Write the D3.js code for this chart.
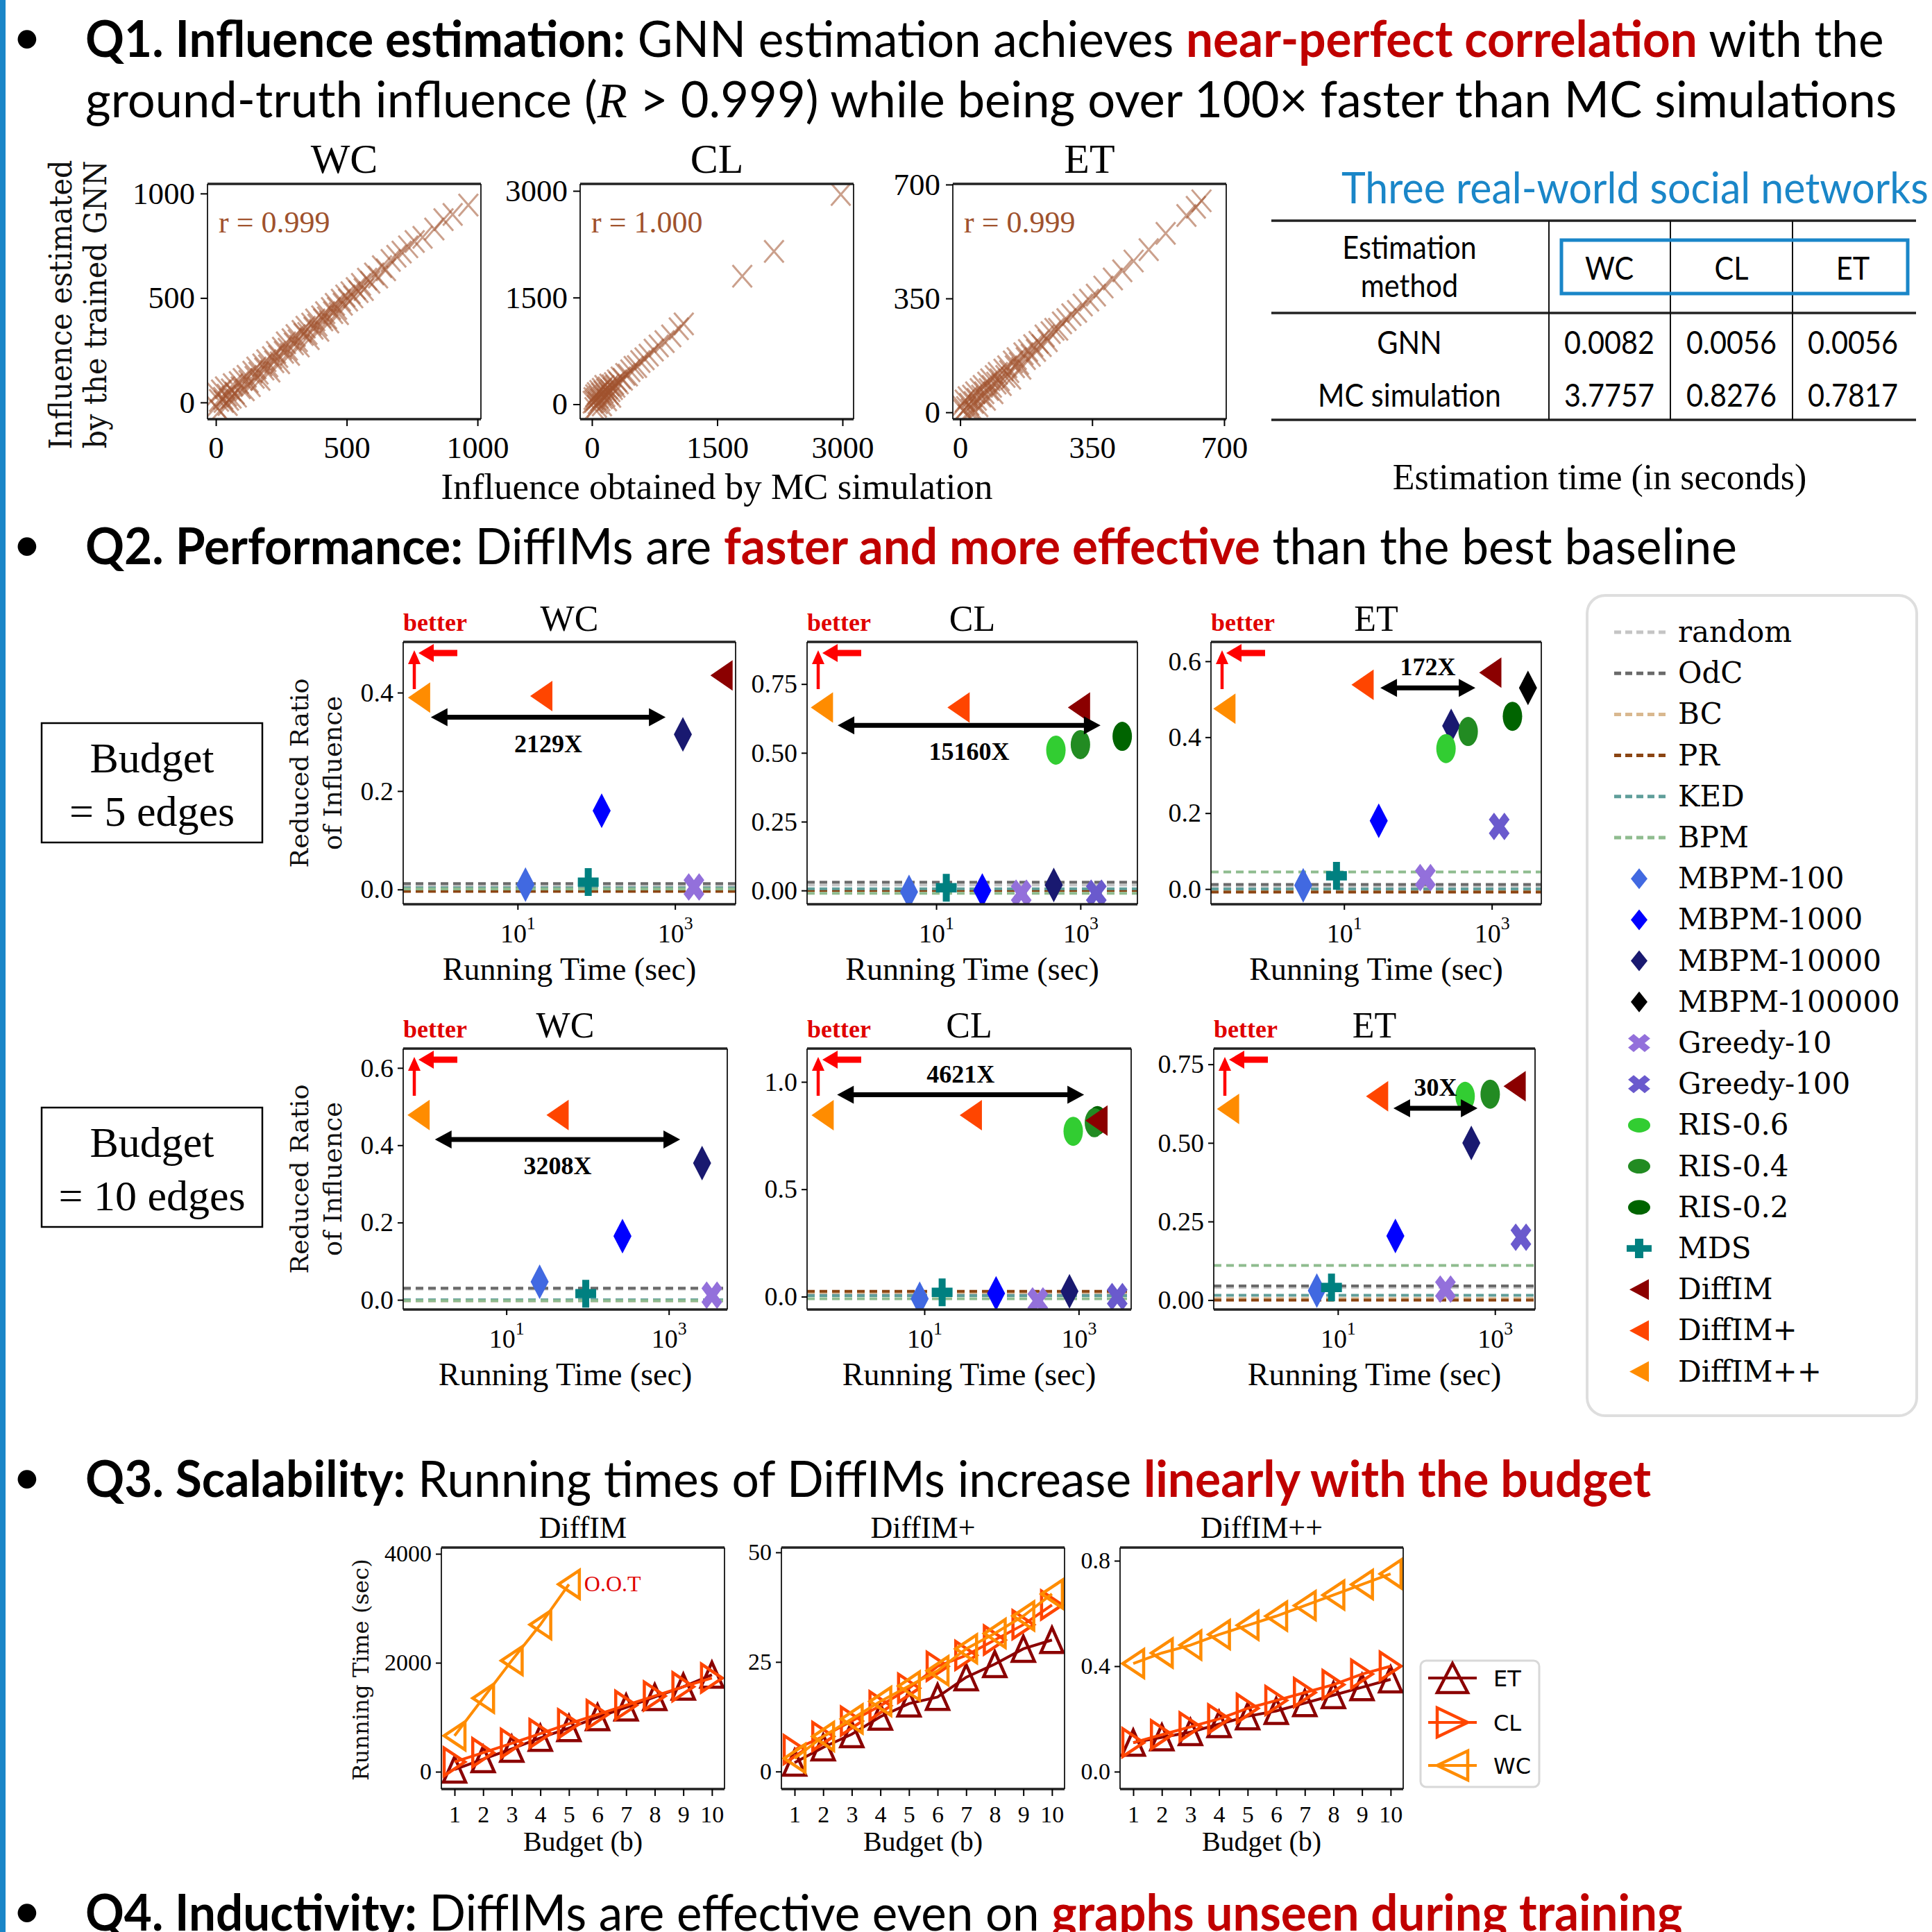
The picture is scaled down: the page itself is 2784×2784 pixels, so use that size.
<!DOCTYPE html>
<html lang="en">
<head>
<meta charset="utf-8">
<title>DiffIM results</title>
<script src="https://cdn.jsdelivr.net/npm/d3@7"></script>
<style>
  html, body { margin: 0; padding: 0; background: #fff; }
  svg { display: block; }
  text { white-space: pre; }
</style>
</head>
<body>
<svg id="chart" width="2784" height="2784"></svg>
<script>
// ---------- Q1 data: [influence by MC simulation, influence estimated by GNN] ----------
const wcScatter = [[5,40],[12,10],[20,55],[28,20],[35,70],[42,35],[50,15],[58,60],[65,85],[72,45],[80,30],[88,95],[95,70],[103,110],[110,60],[118,125],[125,100],[133,80],[140,145],[148,120],[155,165],[163,140],[170,110],[178,180],[185,160],[193,200],[200,175],[208,150],[215,215],[223,195],[230,240],[238,220],[245,190],[253,260],[260,240],[268,285],[275,255],[283,230],[290,300],[298,280],[305,320],[313,295],[320,270],[328,340],[335,325],[343,360],[350,330],[358,305],[365,375],[373,355],[380,395],[388,370],[395,345],[403,410],[410,395],[418,430],[425,405],[433,385],[440,450],[448,430],[455,470],[463,450],[470,425],[478,490],[485,470],[495,510],[505,490],[515,525],[525,505],[535,545],[545,530],[555,565],[565,540],[578,590],[590,575],[605,615],[620,600],[635,650],[650,635],[668,680],[690,700],[710,720],[735,745],[760,770],[790,790],[835,830],[870,875],[905,900],[965,945],[0,-20],[15,-40],[30,5],[45,-10],[60,25]];
const clScatter = [[10,30],[20,80],[30,40],[40,120],[50,70],[60,150],[70,20],[80,100],[90,180],[100,60],[110,140],[120,210],[130,90],[140,170],[150,250],[160,120],[170,200],[180,60],[190,230],[200,150],[210,270],[220,190],[230,110],[240,260],[250,220],[265,290],[280,250],[300,330],[320,300],[345,370],[370,350],[400,420],[430,410],[460,470],[500,520],[540,530],[580,600],[630,640],[680,690],[740,760],[800,820],[870,880],[950,960],[1040,1060],[1100,1130],[1800,1800],[2180,2150],[2980,2950],[30,-60],[60,-30],[120,-10]];
const etScatter = [[3,20],[8,5],[12,35],[16,15],[20,45],[24,25],[28,8],[32,50],[36,30],[40,60],[44,40],[48,20],[52,70],[56,50],[60,80],[64,60],[68,40],[72,90],[76,70],[80,100],[84,80],[88,60],[92,110],[96,90],[100,120],[105,100],[110,85],[115,130],[120,110],[125,140],[130,125],[135,105],[140,155],[145,140],[150,165],[156,150],[162,135],[168,180],[174,165],[180,190],[187,175],[194,205],[201,190],[208,215],[216,205],[224,235],[232,220],[240,245],[250,255],[260,255],[270,275],[282,285],[295,300],[310,310],[325,330],[342,345],[360,360],[380,385],[405,410],[430,435],[460,465],[500,500],[545,550],[600,605],[625,630],[640,650],[20,-10],[40,0]];
const scatterNames = ['WC', 'CL', 'ET'];
const scatterR = ['r = 0.999', 'r = 1.000', 'r = 0.999'];
const scatterTicks = [[0, 500, 1000], [0, 1500, 3000], [0, 350, 700]];

// estimation time table (seconds)
const tableCols = ['WC', 'CL', 'ET'];
const tableRows = ['GNN', 'MC simulation'];
const gnnTimes = ['0.0082', '0.0056', '0.0056'];
const mcTimes = ['3.7757', '0.8276', '0.7817'];

// ---------- Q2 data ----------
const baselineNames = ['random', 'OdC', 'BC', 'PR', 'KED', 'BPM'];
const baselineColors = ['#c4c4c4', '#6a6a6a', '#d9b88f', '#8b4513', '#5f9e9a', '#8fbc8f'];
const methodNames = ['MBPM-100', 'MBPM-1000', 'MBPM-10000', 'MBPM-100000', 'Greedy-10', 'Greedy-100', 'RIS-0.6', 'RIS-0.4', 'RIS-0.2', 'MDS', 'DiffIM', 'DiffIM+', 'DiffIM++'];
const methodColors = ['#4169e1', '#0000ff', '#191970', '#000000', '#9370db', '#6a5acd', '#32cd32', '#228b22', '#006400', '#008080', '#8b0000', '#ff4500', '#ff8c00'];
const methodShapes = ['diamond', 'diamond', 'diamond', 'diamond', 'ex', 'ex', 'circle', 'circle', 'circle', 'plus', 'triLeft', 'triLeft', 'triLeft'];

// baseline reduced ratios, order as baselineNames
const b5wcBase = [0.008, 0.012, 0.0, -0.004, 0.003, 0.001];
const b5clBase = [0.02, 0.03, 0.005, 0.0, 0.006, -0.01];
const b5etBase = [0.008, 0.012, -0.004, -0.008, 0.0, 0.045];
const b10wcBase = [0.028, 0.03, 0.0, -0.002, 0.0, -0.002];
const b10clBase = [0.01, 0.02, 0.02, 0.025, 0.005, -0.01];
const b10etBase = [0.04, 0.045, 0.005, 0.0, 0.015, 0.11];

// [method, running time (sec), reduced ratio of influence]
const b5wcPts = [['MBPM-100', 12.6, 0.01], ['MDS', 79, 0.015], ['MBPM-1000', 117, 0.16], ['MBPM-10000', 1260, 0.315], ['Greedy-10', 1740, 0.005], ['DiffIM', 3900, 0.435], ['DiffIM+', 20, 0.393], ['DiffIM++', 0.56, 0.39]];
const b5clPts = [['MBPM-100', 4.2, -0.005], ['MDS', 13.8, 0.01], ['MBPM-1000', 43.6, 0.0], ['Greedy-10', 151, -0.01], ['MBPM-10000', 427, 0.02], ['Greedy-100', 1660, -0.01], ['RIS-0.6', 457, 0.51], ['RIS-0.4', 1000, 0.53], ['RIS-0.2', 3800, 0.56], ['DiffIM', 955, 0.665], ['DiffIM+', 20.4, 0.665], ['DiffIM++', 0.26, 0.665]];
const b5etPts = [['MBPM-100', 2.8, 0.01], ['MDS', 7.9, 0.035], ['Greedy-10', 126, 0.03], ['MBPM-1000', 29.5, 0.18], ['Greedy-100', 1260, 0.165], ['MBPM-10000', 282, 0.43], ['RIS-0.6', 240, 0.37], ['RIS-0.4', 479, 0.415], ['RIS-0.2', 1905, 0.455], ['MBPM-100000', 3090, 0.53], ['DiffIM', 955, 0.57], ['DiffIM+', 17.8, 0.538], ['DiffIM++', 0.24, 0.475]];
const b10wcPts = [['MBPM-100', 25.7, 0.047], ['MDS', 95, 0.016], ['MBPM-1000', 269, 0.165], ['MBPM-10000', 2570, 0.354], ['Greedy-10', 3390, 0.012], ['DiffIM+', 42.7, 0.478], ['DiffIM++', 0.83, 0.478]];
const b10clPts = [['MBPM-100', 8.7, -0.01], ['MDS', 17, 0.02], ['MBPM-1000', 85, 0.015], ['Greedy-10', 295, -0.02], ['MBPM-10000', 760, 0.025], ['Greedy-100', 3160, 0.0], ['RIS-0.6', 850, 0.77], ['RIS-0.2', 1750, 0.82], ['RIS-0.4', 1600, 0.81], ['DiffIM', 1700, 0.82], ['DiffIM+', 40, 0.845], ['DiffIM++', 0.48, 0.845]];
const b10etPts = [['MBPM-100', 5.4, 0.03], ['MDS', 8.3, 0.04], ['Greedy-10', 234, 0.035], ['MBPM-1000', 54, 0.204], ['Greedy-100', 2140, 0.2], ['MBPM-10000', 500, 0.5], ['RIS-0.6', 417, 0.648], ['RIS-0.4', 870, 0.655], ['DiffIM', 1780, 0.68], ['DiffIM+', 31.6, 0.648], ['DiffIM++', 0.4, 0.608]];

// speed-up arrows: [from sec, to sec, ratio, label, label side]
const b5wcGap = [0.79, 760, 0.35, '2129X', 'below'];
const b5clGap = [0.43, 1900, 0.60, '15160X', 'below'];
const b5etGap = [31, 600, 0.53, '172X', 'above'];
const b10wcGap = [1.32, 1380, 0.415, '3208X', 'below'];
const b10clGap = [0.74, 1175, 0.94, '4621X', 'above'];
const b10etGap = [51, 600, 0.61, '30X', 'above'];

// ---------- Q3 data: running time (sec) vs budget ----------
const budgets = [1, 2, 3, 4, 5, 6, 7, 8, 9, 10];
const diffimET = [40, 230, 420, 620, 800, 1000, 1180, 1370, 1560, 1780];
const diffimCL = [180, 350, 520, 700, 880, 1050, 1220, 1390, 1560, 1720];
const diffimWC = [660, 1350, 2040, 2700, 3440];
const diffimPlusET = [2, 5.5, 8.5, 12.5, 15.5, 17, 21.5, 24.5, 28, 30];
const diffimPlusCL = [5, 8, 11.5, 15, 19, 24, 26.5, 30, 33.5, 38];
const diffimPlusWC = [3, 8, 12, 16, 19.5, 23, 28, 31.5, 35.5, 40.5];
const diffimPPET = [0.11, 0.13, 0.15, 0.18, 0.21, 0.23, 0.26, 0.29, 0.32, 0.35];
const diffimPPCL = [0.11, 0.14, 0.17, 0.20, 0.24, 0.27, 0.30, 0.33, 0.37, 0.40];
const diffimPPWC = [0.41, 0.45, 0.48, 0.52, 0.555, 0.59, 0.63, 0.67, 0.71, 0.75];
const scaleSeries = ['ET', 'CL', 'WC'];
const scaleColors = ['#8b0000', '#ff4500', '#ff8c00'];
const scaleShapes = ['triUp', 'triRight', 'triLeft'];

// ---------- drawing ----------
const svg = d3.select('#chart');
const W = 2784;
const serif = '"Liberation Serif", "Times New Roman", serif';
const wide = '"DejaVu Serif", serif';
const sans = 'Lato, "Noto Sans", sans-serif';
const BLUE = '#1a86c8';
const RED = '#c00000';

svg.append('rect').attr('width', W).attr('height', W).attr('fill', '#fff');
svg.append('rect').attr('width', 8).attr('height', W).attr('fill', BLUE);

const shapeUnit = {
    diamond: 'M0,-0.5L0.5,0L0,0.5L-0.5,0Z',
    triLeft: 'M-0.5,0L0.5,-0.5L0.5,0.5Z',
    triRight: 'M0.5,0L-0.5,-0.5L-0.5,0.5Z',
    triUp: 'M0,-0.5L0.5,0.5L-0.5,0.5Z',
    circle: d3.symbol(d3.symbolCircle, Math.PI * 0.25)(),
    plus: d3.symbol(d3.symbolCross, 5 / 9)(),
    ex: d3.symbol(d3.symbolCross, 0.62)(),
    cross: 'M-0.5,-0.5L0.5,0.5M-0.5,0.5L0.5,-0.5'
};

function marker(g, shape, cx, cy, w, h) {
    const rot = shape === 'ex' ? ' rotate(45)' : '';
    return g.append('path')
        .attr('d', shapeUnit[shape])
        .attr('vector-effect', 'non-scaling-stroke')
        .attr('transform', `translate(${cx},${cy}) scale(${w},${h})${rot}`);
}

function arrowHead(g, x, y, dx, dy, len, wid, color) {
    const n = Math.hypot(dx, dy), ux = dx / n, uy = dy / n;
    const bx = x - ux * len, by = y - uy * len;
    g.append('path')
        .attr('d', `M${x},${y}L${bx - uy * wid / 2},${by + ux * wid / 2}L${bx + uy * wid / 2},${by - ux * wid / 2}Z`)
        .attr('fill', color);
}

function arrow(g, x1, y1, x2, y2, color, sw, len, wid, both) {
    const n = Math.hypot(x2 - x1, y2 - y1), ux = (x2 - x1) / n, uy = (y2 - y1) / n;
    g.append('line')
        .attr('x1', both ? x1 + ux * (len - 2) : x1).attr('y1', both ? y1 + uy * (len - 2) : y1)
        .attr('x2', x2 - ux * (len - 2)).attr('y2', y2 - uy * (len - 2))
        .attr('stroke', color).attr('stroke-width', sw);
    arrowHead(g, x2, y2, ux, uy, len, wid, color);
    if (both) arrowHead(g, x1, y1, -ux, -uy, len, wid, color);
}

function frame(g, x0, x1, y0, y1) {
    g.append('line').attr('x1', x0).attr('x2', x1).attr('y1', y0).attr('y2', y0).attr('stroke', '#222').attr('stroke-width', 3.5);
    g.append('line').attr('x1', x0).attr('x2', x1).attr('y1', y1).attr('y2', y1).attr('stroke', '#222').attr('stroke-width', 3.5);
    g.append('line').attr('x1', x0).attr('x2', x0).attr('y1', y0).attr('y2', y1).attr('stroke', '#111').attr('stroke-width', 1.8);
    g.append('line').attr('x1', x1).attr('x2', x1).attr('y1', y0).attr('y2', y1).attr('stroke', '#111').attr('stroke-width', 1.8);
}

function styleAxis(a, size) {
    a.select('.domain').remove();
    a.attr('font-family', serif).attr('font-size', size);
    a.selectAll('text').attr('fill', '#000');
    a.selectAll('line').attr('stroke', '#000').attr('stroke-width', 2);
}

function rotLabel(x, cy, str, size, len) {
    const t = svg.append('text').attr('font-family', wide).attr('font-size', size)
        .attr('text-anchor', 'middle').attr('fill', '#111').text(str);
    const k = len / t.node().getComputedTextLength();
    t.attr('transform', `translate(${x},${cy}) rotate(-90) scale(${k},1)`);
}

function plainText(x, y, str, opts) {
    return svg.append('text').attr('x', x).attr('y', y)
        .attr('font-family', opts.family || serif).attr('font-size', opts.size)
        .attr('font-weight', opts.weight || 400).attr('fill', opts.color || '#000')
        .attr('text-anchor', opts.anchor || 'middle').text(str);
}

// sans text, squeezed a little to mimic a narrow face
function narrowText(x, y, str, size, color, anchor) {
    return svg.append('text').attr('x', 0).attr('y', 0)
        .attr('transform', `translate(${x},${y}) scale(0.9,1)`)
        .attr('font-family', sans).attr('font-size', size).attr('fill', color || '#000')
        .attr('text-anchor', anchor || 'middle').text(str);
}

// ---------- bullet headlines ----------
function headline(y, parts, width, bullet) {
    if (bullet) {
        svg.append('text').attr('x', 39).attr('y', y - 4).attr('font-family', sans)
            .attr('font-size', 72).attr('text-anchor', 'middle').text('\u2022');
    }
    const t = svg.append('text').attr('x', 0).attr('y', y).attr('font-family', sans).attr('font-size', 72);
    parts.forEach(p => {
        t.append('tspan').text(p[0])
            .attr('font-weight', p[1].includes('b') ? 700 : 400)
            .attr('fill', p[1].includes('r') ? RED : '#000')
            .attr('font-style', p[1].includes('i') ? 'italic' : null)
            .attr('font-family', p[1].includes('i') ? serif : null);
    });
    const k = width / t.node().getComputedTextLength();
    t.attr('transform', `translate(123,0) scale(${k},1)`);
}

headline(82, [['Q1. Influence estimation:', 'b'], [' GNN estimation achieves ', ''], ['near-perfect correlation', 'br'], [' with the', '']], 2592, true);
headline(169, [['ground-truth influence (', ''], ['R', 'i'], [' > 0.999) while being over 100\u00d7 faster than MC simulations', '']], 2611, false);
headline(813, [['Q2. Performance:', 'b'], [' DiffIMs are ', ''], ['faster and more effective', 'br'], [' than the best baseline', '']], 2380, true);
headline(2157, [['Q3. Scalability:', 'b'], [' Running times of DiffIMs increase ', ''], ['linearly with the budget', 'br']], 2256, true);
headline(2782, [['Q4. Inductivity:', 'b'], [' DiffIMs are effective even on ', ''], ['graphs unseen during training', 'br']], 2302, true);

// ---------- Q1 scatter panels ----------
const q1Layout = [
    { x0: 299, x1: 693, xd: [-32, 1013], yd: [-80, 1046] },
    { x0: 836, x1: 1230, xd: [-141, 3133], yd: [-210, 3098] },
    { x0: 1373, x1: 1767, xd: [-19.5, 705.6], yd: [-21, 702] }
];
const q1Data = [wcScatter, clScatter, etScatter];
const Q1TOP = 265, Q1BOT = 604;

q1Layout.forEach((p, i) => {
    const g = svg.append('g');
    const x = d3.scaleLinear().domain(p.xd).range([p.x0, p.x1]);
    const y = d3.scaleLinear().domain(p.yd).range([Q1BOT, Q1TOP]);
    const clipId = 'q1clip' + i;
    svg.append('clipPath').attr('id', clipId).append('rect')
        .attr('x', p.x0).attr('y', Q1TOP).attr('width', p.x1 - p.x0).attr('height', Q1BOT - Q1TOP);
    const pts = g.append('g').attr('clip-path', `url(#${clipId})`);
    q1Data[i].forEach(d => {
        marker(pts, 'cross', x(d[0]), y(d[1]), 28, 32)
            .attr('fill', 'none').attr('stroke', '#a0522d').attr('stroke-width', 3).attr('stroke-opacity', 0.55);
    });
    frame(g, p.x0, p.x1, Q1TOP, Q1BOT);
    g.append('g').attr('transform', `translate(0,${Q1BOT})`)
        .call(d3.axisBottom(x).tickValues(scatterTicks[i]).tickFormat(d3.format('d')).tickSize(10).tickPadding(14))
        .call(a => styleAxis(a, 45));
    g.append('g').attr('transform', `translate(${p.x0},0)`)
        .call(d3.axisLeft(y).tickValues(scatterTicks[i]).tickFormat(d3.format('d')).tickSize(10).tickPadding(8))
        .call(a => styleAxis(a, 45));
    plainText((p.x0 + p.x1) / 2, 249, scatterNames[i], { size: 60 });
    plainText(p.x0 + 16, 335, scatterR[i], { size: 44, color: '#a0522d', anchor: 'start' });
});
plainText(1033, 719, 'Influence obtained by MC simulation', { size: 53 });
rotLabel(103, 439, 'Influence estimated', 44, 417);
rotLabel(153, 439, 'by the trained GNN', 44, 415);

// ---------- estimation time table ----------
(function drawTable() {
    const t = svg.append('text').attr('x', 0).attr('y', 0).attr('font-family', sans)
        .attr('font-size', 62).attr('fill', BLUE).text('Three real-world social networks');
    const k = 846 / t.node().getComputedTextLength();
    t.attr('transform', `translate(1933,293) scale(${k},1)`);

    const colX = [2319, 2495, 2670];
    [318, 451, 605].forEach(yy => svg.append('line').attr('x1', 1832).attr('x2', 2761)
        .attr('y1', yy).attr('y2', yy).attr('stroke', '#222').attr('stroke-width', 3.5));
    [2232, 2407, 2583].forEach(xx => svg.append('line').attr('x1', xx).attr('x2', xx)
        .attr('y1', 318).attr('y2', 605).attr('stroke', '#111').attr('stroke-width', 2));
    svg.append('rect').attr('x', 2250).attr('y', 346).attr('width', 499).attr('height', 77)
        .attr('fill', 'none').attr('stroke', BLUE).attr('stroke-width', 5);

    narrowText(2031, 373, 'Estimation', 46);
    narrowText(2031, 428, 'method', 46);
    tableCols.forEach((c, i) => narrowText(colX[i], 403, c, 46));
    narrowText(2031, 510, tableRows[0], 46);
    narrowText(2031, 586, tableRows[1], 46);
    gnnTimes.forEach((v, i) => narrowText(colX[i], 510, v, 46));
    mcTimes.forEach((v, i) => narrowText(colX[i], 586, v, 46));
    plainText(2305, 705, 'Estimation time (in seconds)', { size: 52 });
})();

// ---------- Q2 performance panels ----------
const perfPanels = [
    { name: 'WC', x0: 581, x1: 1060, y0: 925, y1: 1303, xd: [0.352, 5890], yd: [-0.03, 0.503], ticks: [0, 0.2, 0.4], fmt: '.1f', base: b5wcBase, pts: b5wcPts, gap: b5wcGap },
    { name: 'CL', x0: 1163, x1: 1639, y0: 925, y1: 1303, xd: [0.162, 6170], yd: [-0.05, 0.903], ticks: [0, 0.25, 0.5, 0.75], fmt: '.2f', base: b5clBase, pts: b5clPts, gap: b5clGap },
    { name: 'ET', x0: 1745, x1: 2221, y0: 925, y1: 1303, xd: [0.158, 4680], yd: [-0.04, 0.651], ticks: [0, 0.2, 0.4, 0.6], fmt: '.1f', base: b5etBase, pts: b5etPts, gap: b5etGap },
    { name: 'WC', x0: 581, x1: 1048, y0: 1511, y1: 1887, xd: [0.537, 5250], yd: [-0.025, 0.65], ticks: [0, 0.2, 0.4, 0.6], fmt: '.1f', base: b10wcBase, pts: b10wcPts, gap: b10wcGap },
    { name: 'CL', x0: 1163, x1: 1630, y0: 1511, y1: 1887, xd: [0.302, 4790], yd: [-0.06, 1.155], ticks: [0, 0.5, 1.0], fmt: '.1f', base: b10clBase, pts: b10clPts, gap: b10clGap },
    { name: 'ET', x0: 1749, x1: 2212, y0: 1511, y1: 1887, xd: [0.263, 3240], yd: [-0.03, 0.80], ticks: [0, 0.25, 0.5, 0.75], fmt: '.2f', base: b10etBase, pts: b10etPts, gap: b10etGap }
];
const plotSize = { diamond: [26, 50], ex: [30, 40], circle: [28, 42], plus: [30, 40], triLeft: [32, 44] };

perfPanels.forEach((p, pi) => {
    const g = svg.append('g');
    const x = d3.scaleLog().domain(p.xd).range([p.x0, p.x1]);
    const y = d3.scaleLinear().domain(p.yd).range([p.y1, p.y0]);
    const clipId = 'q2clip' + pi;
    svg.append('clipPath').attr('id', clipId).append('rect')
        .attr('x', p.x0).attr('y', p.y0).attr('width', p.x1 - p.x0).attr('height', p.y1 - p.y0);
    const inner = g.append('g').attr('clip-path', `url(#${clipId})`);

    p.base.forEach((v, i) => {
        inner.append('line').attr('x1', p.x0).attr('x2', p.x1).attr('y1', y(v)).attr('y2', y(v))
            .attr('stroke', baselineColors[i]).attr('stroke-width', 4).attr('stroke-dasharray', '11,7');
    });
    p.pts.forEach(d => {
        const m = methodNames.indexOf(d[0]);
        const shape = methodShapes[m];
        marker(inner, shape, x(d[1]), y(d[2]), plotSize[shape][0], plotSize[shape][1]).attr('fill', methodColors[m]);
    });

    frame(g, p.x0, p.x1, p.y0, p.y1);
    g.append('g').attr('transform', `translate(0,${p.y1})`)
        .call(d3.axisBottom(x).tickValues([10, 1000]).tickSize(8).tickPadding(20))
        .call(a => {
            styleAxis(a, 38);
            a.selectAll('.tick text').each(function (d) {
                const t = d3.select(this);
                t.text('10');
                t.append('tspan').attr('dy', '-0.75em').attr('font-size', '68%').text(Math.round(Math.log10(d)));
            });
        });
    g.append('g').attr('transform', `translate(${p.x0},0)`)
        .call(d3.axisLeft(y).tickValues(p.ticks).tickFormat(d3.format(p.fmt)).tickSize(8).tickPadding(6))
        .call(a => styleAxis(a, 38));

    // speed-up arrow
    const gx1 = x(p.gap[0]), gx2 = x(p.gap[1]), gy = y(p.gap[2]);
    arrow(g, gx1, gy, gx2, gy, '#000', 7, 24, 26, true);
    plainText((gx1 + gx2) / 2, p.gap[4] === 'below' ? gy + 50 : gy - 18, p.gap[3], { size: 36, weight: 700 });

    // "better" hint
    plainText(p.x0, p.y0 - 16, 'better', { size: 36, weight: 700, color: '#e00000', anchor: 'start' });
    arrow(g, p.x0 + 16, p.y0 + 68, p.x0 + 16, p.y0 + 12, '#ff0000', 4.5, 20, 18, false);
    arrow(g, p.x0 + 78, p.y0 + 16, p.x0 + 22, p.y0 + 16, '#ff0000', 9, 22, 26, false);

    plainText((p.x0 + p.x1) / 2, p.y0 - 16, p.name, { size: 52 });
    plainText((p.x0 + p.x1) / 2, p.y1 + 109, 'Running Time (sec)', { size: 46 });
});
rotLabel(444, 1114, 'Reduced Ratio', 36, 273);
rotLabel(492, 1114, 'of Influence', 36, 222);
rotLabel(444, 1699, 'Reduced Ratio', 36, 273);
rotLabel(492, 1699, 'of Influence', 36, 222);

// budget boxes
[[1042, '= 5 edges'], [1596, '= 10 edges']].forEach(b => {
    svg.append('rect').attr('x', 60).attr('y', b[0]).attr('width', 318).attr('height', 172)
        .attr('fill', 'none').attr('stroke', '#000').attr('stroke-width', 2.5);
    plainText(219, b[0] + 71, 'Budget', { size: 62 });
    plainText(219, b[0] + 148, b[1], { size: 62 });
});

// Q2 legend
(function perfLegend() {
    svg.append('rect').attr('x', 2287).attr('y', 858).attr('width', 475).attr('height', 1182).attr('rx', 26)
        .attr('fill', '#fff').attr('stroke', '#dedede').attr('stroke-width', 4);
    const legendSize = { diamond: [24, 30], ex: [32, 26], circle: [32, 21], plus: [36, 28], triLeft: [28, 30] };
    const rowY = i => 911 + i * 59.2;
    baselineNames.forEach((n, i) => {
        svg.append('line').attr('x1', 2326).attr('x2', 2400).attr('y1', rowY(i)).attr('y2', rowY(i))
            .attr('stroke', baselineColors[i]).attr('stroke-width', 5).attr('stroke-dasharray', '10,6');
        plainText(2418, rowY(i) + 14, n, { family: wide, size: 42, anchor: 'start' });
    });
    methodNames.forEach((n, j) => {
        const i = j + baselineNames.length;
        const s = legendSize[methodShapes[j]];
        marker(svg, methodShapes[j], 2362, rowY(i), s[0], s[1]).attr('fill', methodColors[j]);
        plainText(2418, rowY(i) + 14, n, { family: wide, size: 42, anchor: 'start' });
    });
})();

// ---------- Q3 scalability panels ----------
const scalePanels = [
    { name: 'DiffIM', x0: 636, x1: 1044, yd: [-318, 4115], ticks: [0, 2000, 4000], fmt: 'd', series: [diffimET, diffimCL, diffimWC] },
    { name: 'DiffIM+', x0: 1126, x1: 1534, yd: [-4, 51.1], ticks: [0, 25, 50], fmt: 'd', series: [diffimPlusET, diffimPlusCL, diffimPlusWC] },
    { name: 'DiffIM++', x0: 1614, x1: 2022, yd: [-0.066, 0.85], ticks: [0, 0.4, 0.8], fmt: '.1f', series: [diffimPPET, diffimPPCL, diffimPPWC] }
];
const Q3TOP = 2230, Q3BOT = 2578;

scalePanels.forEach((p, pi) => {
    const g = svg.append('g');
    const x = d3.scaleLinear().domain([0.539, 10.44]).range([p.x0, p.x1]);
    const y = d3.scaleLinear().domain(p.yd).range([Q3BOT, Q3TOP]);
    const clipId = 'q3clip' + pi;
    svg.append('clipPath').attr('id', clipId).append('rect')
        .attr('x', p.x0).attr('y', Q3TOP).attr('width', p.x1 - p.x0).attr('height', Q3BOT - Q3TOP);
    const inner = g.append('g').attr('clip-path', `url(#${clipId})`);
    const line = d3.line().x((d, i) => x(budgets[i])).y(d => y(d));

    p.series.forEach((vals, si) => {
        inner.append('path').attr('d', line(vals)).attr('fill', 'none')
            .attr('stroke', scaleColors[si]).attr('stroke-width', 4);
        const sz = scaleShapes[si] === 'triUp' ? [32, 36] : [30, 40];
        vals.forEach((v, i) => {
            marker(inner, scaleShapes[si], x(budgets[i]), y(v), sz[0], sz[1])
                .attr('fill', 'none').attr('stroke', scaleColors[si]).attr('stroke-width', 4.5);
        });
    });
    if (pi === 0) {
        const last = diffimWC.length - 1;
        plainText(x(budgets[last]) + 22, y(diffimWC[last]) + 10, 'O.O.T', { size: 32, color: '#e00000', anchor: 'start' });
    }
    frame(g, p.x0, p.x1, Q3TOP, Q3BOT);
    g.append('g').attr('transform', `translate(0,${Q3BOT})`)
        .call(d3.axisBottom(x).tickValues(budgets).tickSize(10).tickPadding(14))
        .call(a => styleAxis(a, 34));
    g.append('g').attr('transform', `translate(${p.x0},0)`)
        .call(d3.axisLeft(y).tickValues(p.ticks).tickFormat(d3.format(p.fmt)).tickSize(8).tickPadding(6))
        .call(a => styleAxis(a, 34));
    plainText((p.x0 + p.x1) / 2, 2216, p.name, { size: 44 });
    plainText((p.x0 + p.x1) / 2, 2667, 'Budget (b)', { size: 40 });
});
rotLabel(531, 2406, 'Running Time (sec)', 32, 320);

// Q3 legend
(function scaleLegend() {
    svg.append('rect').attr('x', 2047).attr('y', 2393).attr('width', 171).attr('height', 182).attr('rx', 8)
        .attr('fill', '#fff').attr('stroke', '#d8d8d8').attr('stroke-width', 3);
    const rows = [2418, 2482, 2544];
    scaleSeries.forEach((n, i) => {
        svg.append('line').attr('x1', 2058).attr('x2', 2128).attr('y1', rows[i]).attr('y2', rows[i])
            .attr('stroke', scaleColors[i]).attr('stroke-width', 4);
        marker(svg, scaleShapes[i], 2093, rows[i], 44, 42)
            .attr('fill', 'none').attr('stroke', scaleColors[i]).attr('stroke-width', 4.5);
        plainText(2152, rows[i] + 12, n, { family: '"DejaVu Sans", sans-serif', size: 32, anchor: 'start' });
    });
})();
</script>
</body>
</html>
